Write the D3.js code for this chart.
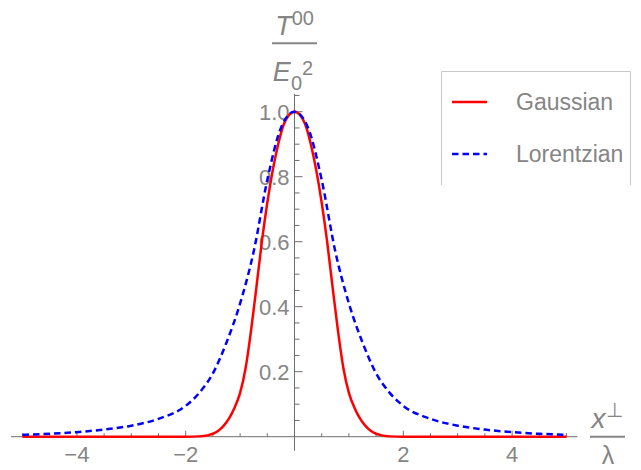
<!DOCTYPE html>
<html>
<head>
<meta charset="utf-8">
<script src="https://cdn.jsdelivr.net/npm/d3@7/dist/d3.min.js"></script>
<style>
  html, body { margin: 0; padding: 0; background: #fff; }
  svg { display: block; font-family: "Liberation Sans", Arial, Helvetica, sans-serif; }
</style>
</head>
<body>
<svg id="chart" width="641" height="470"></svg>
<script>
// ---- data ----
const gaussX = [-5, -3, -2, -1.75, -1.6, -1.5, -1.4, -1.3, -1.2, -1.1, -1.0, -0.9, -0.8, -0.7, -0.6, -0.5, -0.4, -0.3, -0.2, -0.1, 0,
                0.1, 0.2, 0.3, 0.4, 0.5, 0.6, 0.7, 0.8, 0.9, 1.0, 1.1, 1.2, 1.3, 1.4, 1.5, 1.6, 1.75, 2, 3, 5];
const gaussY = [0, 0, 0, 0.001, 0.004, 0.009, 0.018, 0.034, 0.057, 0.09, 0.135, 0.21, 0.325, 0.46, 0.6, 0.72, 0.82, 0.9, 0.96, 0.99, 1,
                0.99, 0.96, 0.9, 0.82, 0.72, 0.6, 0.46, 0.325, 0.21, 0.135, 0.09, 0.057, 0.034, 0.018, 0.009, 0.004, 0.001, 0, 0, 0];

const lorentzX = [-5, -4.5, -4, -3.5, -3, -2.5, -2, -1.75, -1.5, -1.25, -1, -0.75, -0.5, -0.25, 0,
                  0.25, 0.5, 0.75, 1, 1.25, 1.5, 1.75, 2, 2.5, 3, 3.5, 4, 4.5, 5];
const lorentzY = [0.006, 0.009, 0.014, 0.022, 0.034, 0.055, 0.095, 0.135, 0.195, 0.29, 0.41, 0.57, 0.79, 0.95, 1,
                  0.95, 0.79, 0.57, 0.41, 0.29, 0.195, 0.135, 0.095, 0.055, 0.034, 0.022, 0.014, 0.009, 0.006];

const xMajorTicks = [-4, -2, 2, 4];
const xTickLabels = ["\u22124", "\u22122", "2", "4"];
const yMajorTicks = [0.2, 0.4, 0.6, 0.8, 1.0];
const yTickLabels = ["0.2", "0.4", "0.6", "0.8", "1.0"];
const seriesNames = ["Gaussian", "Lorentzian"];
const seriesColors = ["#ff0000", "#0000ff"];

// ---- layout ----
const svg = d3.select("#chart");
const x = d3.scaleLinear().domain([-5, 5]).range([22.5, 566.5]);
const y = d3.scaleLinear().domain([0, 1]).range([436.7, 111.7]);
const axisColor = "#6e6e6e";
const labelColor = "#858585";
const fs = 22;

// legend box (left, top, right edges)
svg.append("path")
  .attr("d", "M441.5,185V71.5H630.5V185")
  .attr("fill", "none").attr("stroke", "#c8c8c8").attr("stroke-width", 1);

// axes
const gAx = svg.append("g").attr("stroke", axisColor).attr("stroke-width", 1).attr("fill", "none");
gAx.append("line").attr("x1", x(-5.21)).attr("x2", x(5.2)).attr("y1", y(0)).attr("y2", y(0));
gAx.append("line").attr("x1", x(0)).attr("x2", x(0)).attr("y1", y(-0.043)).attr("y2", y(1.055));

// x ticks every 0.5 (minor), majors at labelled values
const xMinor = d3.range(-10, 11).map(d => d / 2).filter(d => d !== 0);
gAx.selectAll(".xt").data(xMinor).join("line")
  .attr("x1", d => x(d)).attr("x2", d => x(d))
  .attr("y1", y(0)).attr("y2", d => y(0) - (xMajorTicks.includes(d) ? 6 : 3.5));

// y ticks every 0.05
const yMinor = d3.range(1, 22).map(d => +(d * 0.05).toFixed(2));
gAx.selectAll(".yt").data(yMinor).join("line")
  .attr("x1", x(0)).attr("x2", d => x(0) + (yMajorTicks.some(t => Math.abs(t - d) < 1e-6) ? 8 : 5))
  .attr("y1", d => y(d)).attr("y2", d => y(d));

// tick labels
svg.append("g").selectAll("text").data(xMajorTicks).join("text")
  .attr("x", d => x(d)).attr("y", 462)
  .attr("text-anchor", "middle").attr("font-size", fs).attr("fill", labelColor)
  .text((d, i) => xTickLabels[i]);

svg.append("g").selectAll("text").data(yMajorTicks).join("text")
  .attr("x", x(0) - 5).attr("y", d => y(d) + 0.358 * fs)
  .attr("text-anchor", "end").attr("font-size", fs).attr("fill", labelColor)
  .text((d, i) => yTickLabels[i]);

// curves
const line = d3.line().curve(d3.curveMonotoneX);
svg.append("path")
  .attr("d", line(gaussX.map((d, i) => [x(d), y(gaussY[i])])))
  .attr("fill", "none").attr("stroke", seriesColors[0]).attr("stroke-width", 2.5);
svg.append("path")
  .attr("d", line(lorentzX.map((d, i) => [x(d), y(lorentzY[i])])))
  .attr("fill", "none").attr("stroke", seriesColors[1]).attr("stroke-width", 2.5)
  .attr("stroke-dasharray", "6.5,4");

// y axis title: T^00 / E_0^2
const yt = svg.append("g").attr("fill", labelColor);
const num = yt.append("text").attr("x", 294.5).attr("y", 35).attr("text-anchor", "middle");
num.append("tspan").attr("font-style", "italic").attr("font-size", 27).text("T");
num.append("tspan").attr("font-size", 20).attr("dy", -10).text("00");
yt.append("line").attr("x1", 272).attr("x2", 317).attr("y1", 43.3).attr("y2", 43.3)
  .attr("stroke", labelColor).attr("stroke-width", 2);
const den = yt.append("text").attr("x", 293).attr("y", 81).attr("text-anchor", "middle");
den.append("tspan").attr("font-style", "italic").attr("font-size", 27).text("E");
den.append("tspan").attr("font-size", 20).attr("dy", 9).text("0");
den.append("tspan").attr("font-size", 20).attr("dy", -15).text("2");

// x axis title: x⊥ / λ
const xt = svg.append("g").attr("fill", labelColor);
const xn = xt.append("text").attr("x", 607).attr("y", 428).attr("text-anchor", "middle");
xn.append("tspan").attr("font-style", "italic").attr("font-size", 28).text("x");
xn.append("tspan").attr("font-size", 20).attr("dy", -11).text("\u22A5");
xt.append("line").attr("x1", 590).attr("x2", 625).attr("y1", 436.7).attr("y2", 436.7)
  .attr("stroke", labelColor).attr("stroke-width", 2);
xt.append("text").attr("x", 608).attr("y", 464).attr("text-anchor", "middle")
  .attr("font-size", 25).text("\u03BB");

// legend entries
const legY = [102, 154];
const leg = svg.append("g");
seriesNames.forEach((name, i) => {
  leg.append("line").attr("x1", 452).attr("x2", 487).attr("y1", legY[i]).attr("y2", legY[i])
    .attr("stroke", seriesColors[i]).attr("stroke-width", 2.5)
    .attr("stroke-dasharray", i === 1 ? "6.5,4" : null);
  leg.append("text").attr("x", 516).attr("y", legY[i] + 0.358 * 23)
    .attr("font-size", 23).attr("fill", labelColor).text(name);
});
</script>
</body>
</html>
